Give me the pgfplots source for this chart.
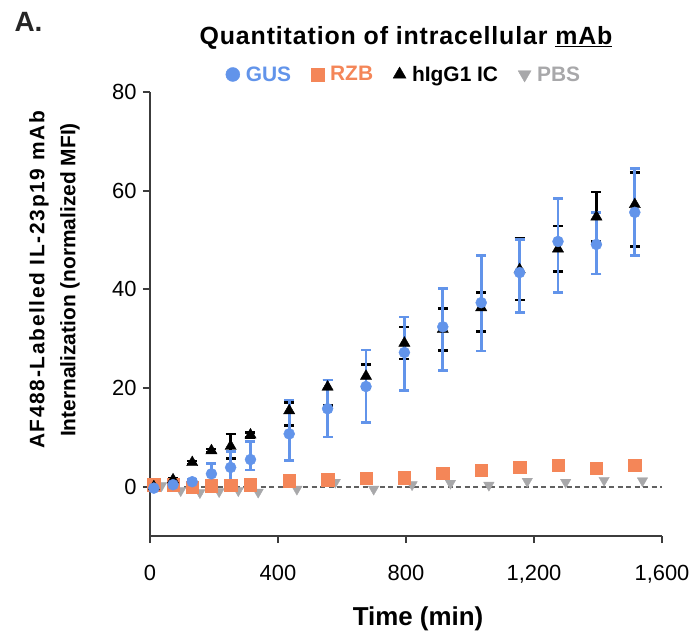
\documentclass[border=0pt]{standalone}
\usepackage{fontspec}
\setmainfont{Liberation Sans}
\usepackage{pgfplots}
\pgfplotsset{compat=1.18}
\usepackage{pgfplotstable}
\definecolor{gusblue}{RGB}{98,148,234}
\definecolor{rzborange}{RGB}{244,134,88}
\definecolor{pbsgray}{RGB}{168,168,170}
\definecolor{axisgray}{RGB}{60,60,60}

\pgfplotstableread{
t y ep em
12 -0.3 0.3 0.3
72 0.4 0.3 0.3
132 1.0 0.5 0.5
192 2.6 2.1 2.1
252 3.9 3.2 2.7
314 5.5 3.6 2.1
435 10.7 6.9 5.4
555 15.8 5.8 5.7
675 20.3 7.4 7.3
795 27.2 7.2 7.7
915 32.4 7.8 8.8
1035 37.3 9.5 9.8
1155 43.4 6.7 8.1
1275 49.7 8.7 10.3
1395 49.1 6.5 6.0
1515 55.6 8.9 8.8
}\gus

\pgfplotstableread{
t y ep em
12 0.0 0.3 0.3
72 1.4 0.3 0.3
132 4.9 0.3 0.3
192 7.3 0.3 0.3
252 8.2 2.5 2.5
314 10.5 0.5 0.5
435 15.4 1.7 3.0
555 20.2 1.4 3.8
675 22.4 2.4 2.4
795 29.1 3.3 3.2
915 31.9 4.2 4.3
1035 36.3 3.0 4.9
1155 44.0 6.3 6.2
1275 48.2 4.6 4.6
1395 54.7 5.0 5.0
1515 57.2 6.5 8.5
}\igg

\pgfplotstableread{
t y
12 0.4
72 0.4
132 -0.1
192 0.2
252 0.3
314 0.4
435 1.2
555 1.4
675 1.7
795 1.8
915 2.7
1035 3.3
1155 3.9
1275 4.3
1395 3.8
1515 4.4
}\rzb

\pgfplotstableread{
t y
36 0.2
96 -0.8
156 -1.2
216 -1.0
276 -0.8
338 -1.1
459 -0.5
579 0.9
699 -0.5
819 0.4
939 0.7
1059 0.3
1179 1.1
1299 0.9
1419 1.3
1539 1.2
}\pbs

\begin{document}
\begin{tikzpicture}
\path[use as bounding box] (-150bp,-95bp) rectangle (545bp,536bp);
\begin{axis}[
  at={(0,0)}, anchor=south west,
  scale only axis, width=512bp, height=444bp,
  xmin=0, xmax=1600, ymin=-10, ymax=80,
  axis lines=left,
  axis line style={-, line width=2bp, draw=axisgray},
  xtick={0,400,800,1200,1600}, ytick={0,20,40,60,80},
  tick align=outside, major tick length=7bp,
  every tick/.style={line width=2bp, draw=axisgray},
  tick label style={font=\fontsize{22}{26}\selectfont},
  xticklabel shift=19bp, yticklabel shift=3bp,
  /pgf/number format/assume math mode=true,
  clip=false,
  legend columns=4,
  legend style={at={(axis description cs:0.496,1)}, anchor=south, yshift=7bp,
    draw=none, fill=none, font=\bfseries\fontsize{21}{24}\selectfont,
    inner sep=0pt,
    /tikz/every odd column/.append style={column sep=4bp},
    /tikz/every even column/.append style={column sep=18bp}},
  legend image code/.code={\draw[#1] plot coordinates {(7bp,0bp)};},
]
\addlegendimage{only marks, mark=*, mark size=7bp, gusblue}
\addlegendentry{\textcolor{gusblue}{GUS}}
\addlegendimage{only marks, mark=square*, mark size=6.5bp, rzborange}
\addlegendentry{\textcolor{rzborange}{RZB}}
\addlegendimage{only marks, mark=triangle*, mark size=7.5bp, black}
\addlegendentry{hIgG1 IC}
\addlegendimage{only marks, mark=triangle*, mark size=7.5bp, pbsgray, mark options={rotate=180}}
\addlegendentry{\textcolor{pbsgray}{PBS}}

\addplot[forget plot, line width=1.8bp, draw=black!62, dash pattern=on 5bp off 3.5bp] coordinates {(0,0) (1600,0)};

\addplot[forget plot, only marks, mark=triangle*, mark size=6bp, pbsgray, mark options={rotate=180}] table[x=t,y=y]{\pbs};
\addplot[forget plot, only marks, mark=square*, mark size=6.2bp, rzborange] table[x=t,y=y]{\rzb};

\addplot[forget plot, only marks, mark=none,
  error bars/.cd, y dir=both, y explicit,
  error bar style={line width=2.8bp, draw=black, solid},
  error mark options={rotate=90, mark size=5bp, line width=2.6bp, draw=black}]
  table[x=t,y=y,y error plus=ep,y error minus=em]{\igg};
\addplot[forget plot, only marks, mark=none,
  error bars/.cd, y dir=both, y explicit,
  error bar style={line width=2.8bp, draw=gusblue, solid},
  error mark options={rotate=90, mark size=5bp, line width=2.6bp, draw=gusblue}]
  table[x=t,y=y,y error plus=ep,y error minus=em]{\gus};

\addplot[forget plot, only marks, mark=triangle*, mark size=6.5bp, black] table[x=t,y=y]{\igg};
\addplot[forget plot, only marks, mark=*, mark size=5.5bp, gusblue] table[x=t,y=y]{\gus};
\end{axis}

\node[anchor=base, font=\bfseries\fontsize{25}{30}\selectfont\addfontfeature{LetterSpace=3.5}] at (256bp,491bp) {Quantitation of intracellular \underline{mAb}};
\node[anchor=base west, font=\bfseries\fontsize{28}{32}\selectfont, text=black!85] at (-139bp,504bp) {A.};
\node[rotate=90, align=center, font=\bfseries\fontsize{21}{31}\selectfont] at (-95.5bp,256bp)
  {{\addfontfeature{LetterSpace=8}AF488-Labelled IL-23p19 mAb}\\Internalization (normalized MFI)};
\node[anchor=base, font=\bfseries\fontsize{26}{30}\selectfont] at (268bp,-89bp) {Time (min)};
\end{tikzpicture}
\end{document}
